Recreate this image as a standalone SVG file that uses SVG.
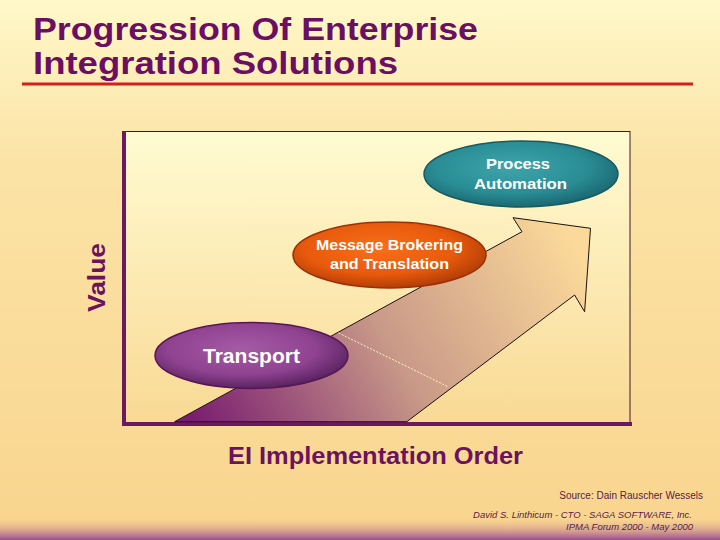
<svg xmlns="http://www.w3.org/2000/svg" width="720" height="540" viewBox="0 0 720 540">
  <defs>
    <linearGradient id="bg" x1="0" y1="0" x2="0" y2="1">
      <stop offset="0" stop-color="#fff8c9"/>
      <stop offset="0.3" stop-color="#fbe3a6"/>
      <stop offset="1" stop-color="#f9d58e"/>
    </linearGradient>
    <linearGradient id="band" x1="0" y1="0" x2="0" y2="1">
      <stop offset="0" stop-color="#f9d58e" stop-opacity="0"/>
      <stop offset="1" stop-color="#9a4a92"/>
    </linearGradient>
    <linearGradient id="chartBg" x1="0" y1="0" x2="0" y2="1">
      <stop offset="0" stop-color="#fffbd2"/>
      <stop offset="1" stop-color="#f9d994"/>
    </linearGradient>
    <linearGradient id="arrowGrad" gradientUnits="userSpaceOnUse" x1="200" y1="430" x2="560" y2="220">
      <stop offset="0" stop-color="#7a1e70"/>
      <stop offset="0.5" stop-color="#c99a88"/>
      <stop offset="1" stop-color="#fbd99a"/>
    </linearGradient>
    <radialGradient id="gTransport" cx="0.45" cy="0.4" r="0.65">
      <stop offset="0" stop-color="#a65ba6"/>
      <stop offset="0.6" stop-color="#8e4290"/>
      <stop offset="1" stop-color="#4e1c56"/>
    </radialGradient>
    <radialGradient id="gMessage" cx="0.45" cy="0.4" r="0.65">
      <stop offset="0" stop-color="#f7701a"/>
      <stop offset="0.6" stop-color="#e85a0c"/>
      <stop offset="1" stop-color="#a63806"/>
    </radialGradient>
    <radialGradient id="gProcess" cx="0.45" cy="0.4" r="0.65">
      <stop offset="0" stop-color="#3ea5ab"/>
      <stop offset="0.6" stop-color="#2a8d95"/>
      <stop offset="1" stop-color="#17606a"/>
    </radialGradient>
    <style>
      .title { font-family: "Liberation Sans", Arial, sans-serif; font-weight: bold; font-size: 31px; fill: #6b0f63; }
      .axis { font-family: "Liberation Sans", Arial, sans-serif; font-weight: bold; fill: #6b1260; }
      .lbl { font-family: "Liberation Sans", Arial, sans-serif; font-weight: bold; fill: #ffffff; text-anchor: middle; }
      .foot { font-family: "Liberation Sans", Arial, sans-serif; fill: #5a1a4a; }
      .ell { stroke-width: 1.5; }
    </style>
  </defs>

  <!-- background -->
  <rect x="0" y="0" width="720" height="540" fill="url(#bg)"/>
  <rect x="0" y="516" width="720" height="24" fill="url(#band)"/>

  <!-- title -->
  <g id="title">
    <text class="title" x="33" y="40" textLength="445" lengthAdjust="spacingAndGlyphs">Progression Of Enterprise</text>
    <text class="title" x="33" y="74" textLength="365" lengthAdjust="spacingAndGlyphs">Integration Solutions</text>
    <line x1="22" y1="84" x2="693" y2="84" stroke="#d01f1f" stroke-width="3"/>
  </g>

  <!-- chart frame -->
  <g id="chart">
    <rect x="124" y="131.5" width="506" height="292.5" fill="url(#chartBg)" stroke="#3a1a2a" stroke-width="1"/>
    <line x1="124" y1="131" x2="124" y2="426" stroke="#6b1a60" stroke-width="4"/>
    <line x1="122" y1="424" x2="632" y2="424" stroke="#6b1a60" stroke-width="4"/>
  </g>

  <!-- connectors: the progression arrow -->
  <g id="connectors">
    <polygon points="174.6,421.7 522,231.7 513,217.7 590.5,228.3 584.6,311.7 574.6,295 406.8,421.7" fill="url(#arrowGrad)" stroke="#1a1010" stroke-width="1"/>
    <line x1="338.6" y1="333" x2="448" y2="386.7" stroke="#fff4c0" stroke-width="1" stroke-dasharray="2,1.5"/>
  </g>

  <!-- nodes -->
  <g id="transport">
    <ellipse class="ell" cx="251.5" cy="355.5" rx="96.5" ry="33" fill="url(#gTransport)" stroke="#5a1458"/>
    <text class="lbl" x="251.5" y="363" font-size="20" textLength="97" lengthAdjust="spacingAndGlyphs">Transport</text>
  </g>

  <g id="message-brokering">
    <ellipse class="ell" cx="389.5" cy="255" rx="96.5" ry="33" fill="url(#gMessage)" stroke="#9a3006"/>
    <text class="lbl" x="389.5" y="250" font-size="14.5" textLength="147" lengthAdjust="spacingAndGlyphs">Message Brokering</text>
    <text class="lbl" x="389.5" y="269" font-size="14.5" textLength="119" lengthAdjust="spacingAndGlyphs">and Translation</text>
  </g>

  <g id="process-automation">
    <ellipse class="ell" cx="521" cy="174" rx="97" ry="33" fill="url(#gProcess)" stroke="#175a62"/>
    <text class="lbl" x="518" y="169" font-size="15" textLength="64" lengthAdjust="spacingAndGlyphs">Process</text>
    <text class="lbl" x="520.5" y="189" font-size="15" textLength="93" lengthAdjust="spacingAndGlyphs">Automation</text>
  </g>

  <!-- axis labels -->
  <g id="axis-labels">
    <text class="axis" font-size="24" transform="translate(105,277.5) rotate(-90)" text-anchor="middle" textLength="69" lengthAdjust="spacingAndGlyphs">Value</text>
    <text class="axis" font-size="23" x="228" y="464" textLength="295" lengthAdjust="spacingAndGlyphs">EI Implementation Order</text>
  </g>

  <!-- footer -->
  <g id="footer">
    <text class="foot" font-size="10" x="703" y="499" text-anchor="end">Source: Dain Rauscher Wessels</text>
    <text class="foot" font-size="9.5" font-style="italic" x="692" y="518" text-anchor="end">David S. Linthicum - CTO - SAGA SOFTWARE, Inc.</text>
    <text class="foot" font-size="9.5" font-style="italic" x="693" y="530" text-anchor="end">IPMA Forum 2000 - May 2000</text>
  </g>
</svg>
